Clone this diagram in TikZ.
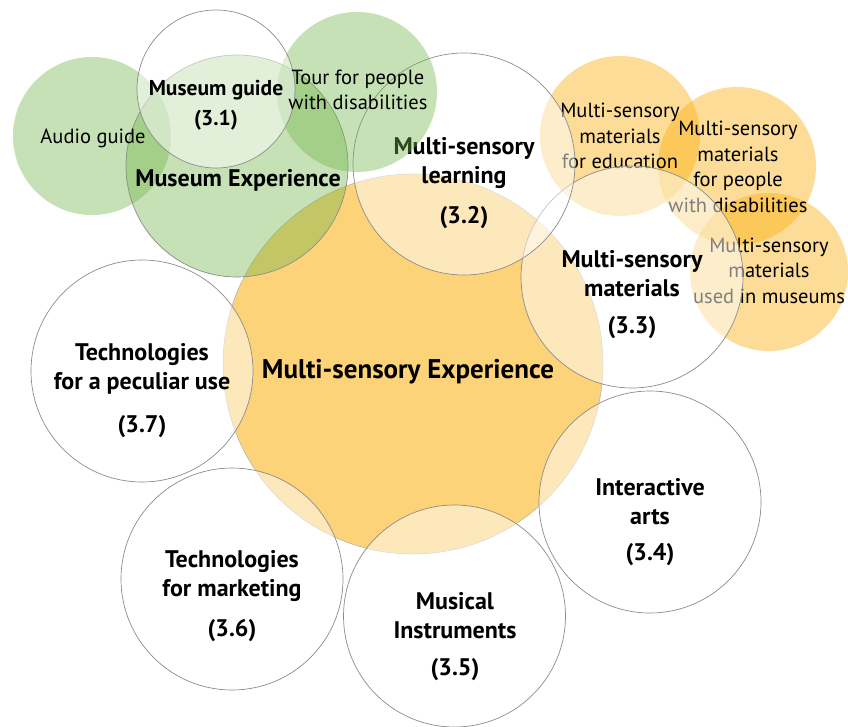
\documentclass[tikz,border=0pt]{standalone}
\usepackage{fontspec}
\setmainfont{PT Sans}
\definecolor{og}{RGB}{249,174,11}
\definecolor{gr}{RGB}{112,180,70}
\definecolor{ol}{RGB}{140,140,140}
\begin{document}
\begin{tikzpicture}[x=1pt,y=-1pt,
  circ/.style={circle,inner sep=0pt,minimum size=#1},
  wcirc/.style={circ=#1,draw=ol,line width=0.7pt,fill=white,fill opacity=0.5},
  ocirc/.style={circ=#1,fill=og,fill opacity=0.43},
  gcirc/.style={circ=#1,fill=gr,fill opacity=0.4},
  lbl/.style={font=\fontsize{24}{29}\selectfont\bfseries,align=center,inner sep=0pt,text=black},
  sml/.style={font=\fontsize{20.5}{25.5}\selectfont,align=center,inner sep=0pt,text=black}]
\useasboundingbox (0,0) rectangle (848,727);
% big orange circle
\node[circ=380pt,fill=og,fill opacity=0.55,draw=ol!70,line width=0.5pt] (big) at (413,364) {};
% small orange circles
\node[ocirc=160pt] (edu) at (620,136) {};
\node[ocirc=158pt] (dis) at (737,166) {};
\node[ocirc=158pt] (mus) at (769,272) {};
\node[sml] (tedu) at (620,136) {Multi-sensory\\materials\\for education};
\node[sml] (tdis) at (738,167) {Multi-sensory\\materials\\for people\\with disabilities};
\node[sml] (tmus) at (769,270.5) {Multi-sensory\\materials\\used in museums};
% white circles
\node[wcirc=222pt] (c33) at (632,277) {};
\node[wcirc=222pt] (c34) at (650,502) {};
\node[wcirc=222pt] (c35) at (454.5,616) {};
\node[wcirc=222pt] (c36) at (232,579) {};
\node[wcirc=222pt] (c37) at (142,371) {};
\node[lbl] (t33) at (632,294.5) {Multi-sensory\\materials\\[8pt](3.3)};
\node[lbl] (t34) at (650,522) {Interactive\\arts\\[7pt](3.4)};
\node[lbl] (t35) at (455,637) {Musical\\Instruments\\[8pt](3.5)};
\node[lbl] (t36) at (232,596) {Technologies\\for marketing\\[11pt](3.6)};
\node[lbl] (t37) at (142,390.5) {Technologies\\for a peculiar use\\[14pt](3.7)};
% learning circle
\node[wcirc=222pt] (c32) at (464,164) {};
\node[lbl] (t32) at (464,183) {Multi-sensory\\learning\\[11pt](3.2)};
% green circles
\node[gcirc=158pt] (aud) at (92,136) {};
\node[gcirc=222pt,draw=ol,line width=0.7pt] (mex) at (237,166) {};
\node[gcirc=160pt] (tour) at (357,92) {};
% museum guide
\node[wcirc=158pt] (c31) at (216,89) {};
% texts on top
\node[lbl,font=\fontsize{27}{32}\selectfont\bfseries] (tbig) at (408,372) {Multi-sensory Experience};
\node[sml] (taud) at (93,138) {Audio guide};
\node[lbl,font=\fontsize{21.5}{30}\selectfont\bfseries] (t31) at (216,105) {Museum guide\\(3.1)};
\node[lbl] (tmex) at (238,180) {Museum Experience};
\node[sml] (ttour) at (358,90) {Tour for people\\with disabilities};
\end{tikzpicture}
\end{document}
